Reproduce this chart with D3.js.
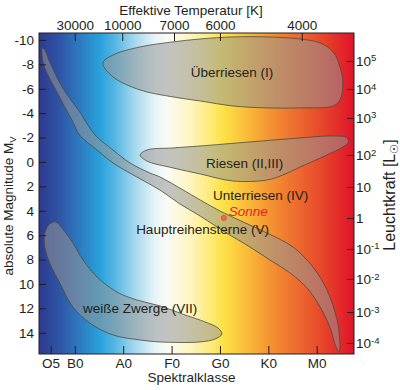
<!DOCTYPE html>
<html lang="de">
<head>
    <meta charset="UTF-8">
    <title>Hertzsprung-Russell-Diagramm</title>
    <style>
        body { margin: 0; background: #fff; }
        svg text { font-family: Arial, "Liberation Sans", sans-serif; fill: #231f20; }
        .axis line { stroke: #231f20; stroke-width: 1; }
        .axis text { font-size: 13.5px; }
        .region { fill: #969696; fill-opacity: 0.55; stroke: #4a4a3c; stroke-width: 0.8; }
    </style>
</head>
<body>
<svg id="hrd"></svg>
<script src="https://d3js.org/d3.v7.min.js"></script>
<script>
    // spectral class as number: O=0, B=1, A=2, F=3, G=4, K=5, M=6 (+ subclass/10)
    const spec_labels = ["O5", "B0", "A0", "F0", "G0", "K0", "M0"];
    const spec_values = [0.5, 1, 2, 3, 4, 5, 6];
    const spec_range = [0.26, 6.77];

    // effective temperature ticks (top) and where they sit on the spectral axis
    const temp_labels = ["30000", "10000", "7000", "6000", "4000"];
    const temp_pos = [1.0, 1.98, 3.05, 4.0, 5.69];

    // absolute magnitude (left)
    const mag_ticks = [-10, -8, -6, -4, -2, 0, 2, 4, 6, 8, 10, 12, 14];
    const mag_range = [-10.57, 15.74];

    // luminosity exponents (right) and the magnitude they are drawn at
    const lum_exp = [5, 4, 3, 2, 1, 0, -1, -2, -3, -4];
    const lum_pos = [-8.28, -5.98, -3.61, -0.57, 2.05, 4.59, 7.13, 9.59, 12.30, 14.84];

    // regions as [spectral, magnitude] outlines
    const supergiants = [
        [1.58, -8.11], [1.79, -8.77], [2.35, -9.43], [3.03, -9.84], [3.59, -10.08],
        [4.27, -10.25], [4.97, -10.25], [5.66, -10.08], [6.07, -9.75], [6.34, -9.02],
        [6.48, -7.79], [6.54, -6.48], [6.48, -5.08], [6.34, -4.59], [5.66, -4.43],
        [4.97, -4.43], [4.27, -4.59], [3.59, -5.0], [3.03, -5.33], [2.35, -5.90],
        [1.79, -6.97]
    ];
    const giants = [
        [2.35, -0.57], [2.49, -0.98], [3.03, -1.15], [3.59, -1.31], [4.62, -1.64],
        [5.66, -1.97], [6.34, -2.13], [6.63, -1.97], [6.65, -1.56], [6.54, -1.23],
        [6.21, -0.57], [5.66, 0.41], [5.30, 1.07], [4.97, 1.48], [4.27, 1.56],
        [3.59, 0.98], [3.03, 0.49], [2.49, -0.08]
    ];
    const main_sequence = [
        [0.33, -9.34], [0.38, -9.18], [0.48, -8.20], [0.75, -6.07], [1.10, -4.10],
        [1.42, -2.21], [1.79, -0.98], [2.14, 0.08], [2.55, 0.90], [2.76, 1.23],
        [3.24, 2.30], [3.59, 3.11], [4.00, 4.02], [4.48, 4.92], [4.97, 5.82],
        [5.51, 6.97], [5.92, 8.61], [6.21, 10.49], [6.42, 12.95], [6.48, 15.0],
        [6.46, 15.57],
        [6.40, 15.16], [6.27, 13.52], [6.07, 11.89], [5.80, 10.33], [5.45, 9.10],
        [5.03, 8.03], [4.62, 6.97], [4.10, 5.74], [3.59, 4.43], [3.17, 3.44],
        [2.76, 2.30], [2.28, 1.23], [1.79, 0.08], [1.46, -0.98], [1.10, -2.21],
        [0.96, -3.28], [0.63, -5.74], [0.38, -7.70], [0.33, -8.52]
    ];
    const white_dwarfs = [
        [0.38, 5.82], [0.48, 5.08], [0.61, 4.92], [0.75, 5.49], [0.96, 6.64],
        [1.17, 8.03], [1.46, 9.43], [1.87, 10.66], [2.28, 11.31], [2.76, 11.80],
        [3.28, 12.54], [3.69, 13.11], [3.96, 13.61], [4.04, 14.10], [3.90, 14.51],
        [3.59, 14.75], [2.76, 14.75], [2.35, 14.59], [1.79, 14.18], [1.31, 13.20],
        [0.96, 11.89], [0.69, 9.92], [0.48, 8.28], [0.38, 6.97]
    ];

    const region_labels = ["Überriesen (I)", "Riesen (II,III)", "Unterriesen (IV)",
                           "Hauptreihensterne (V)", "weiße Zwerge (VII)"];
    const region_label_pos = [[4.25, -6.97], [4.51, 0.49], [4.84, 3.11], [3.64, 5.90], [2.35, 12.34]];

    const sun = [4.08, 4.59];

    // background colour by spectral class
    const bg_stops = [0.26, 0.69, 1.10, 1.52, 1.83, 2.24, 2.65, 2.92, 3.38, 3.79,
                      4.04, 4.42, 4.83, 5.24, 5.66, 6.07, 6.48, 6.77];
    const bg_colors = ["#2e3a8f", "#2f55a6", "#2e7ac0", "#29a1db", "#55b6e3", "#a6d8ee",
                       "#e6f3f7", "#fbfbf5", "#fdf5c0", "#feeb7a", "#fde34a", "#fbc73c",
                       "#f6a434", "#f18431", "#ec672d", "#e7492b", "#e32a29", "#e01229"];

    const W = 400, H = 390;
    const margin = {top: 33, right: 46, bottom: 36, left: 39};
    const width = W - margin.left - margin.right;
    const height = H - margin.top - margin.bottom;

    const svg = d3.select("#hrd").attr("width", W).attr("height", H);
    const plot = svg.append("g")
        .attr("transform", "translate(" + margin.left + "," + margin.top + ")");

    const x = d3.scaleLinear().domain(spec_range).range([0, width]);
    const y = d3.scaleLinear().domain(mag_range).range([0, height]);

    // gradient background
    const grad = svg.append("defs").append("linearGradient")
        .attr("id", "bg")
        .attr("gradientUnits", "userSpaceOnUse")
        .attr("x1", 0).attr("x2", width).attr("y1", 0).attr("y2", 0);
    grad.selectAll("stop").data(bg_stops).enter().append("stop")
        .attr("offset", d => x(d) / width)
        .attr("stop-color", (d, i) => bg_colors[i]);

    plot.append("rect")
        .attr("width", width).attr("height", height)
        .style("fill", "url(#bg)");

    // regions
    const outline = d3.line()
        .curve(d3.curveCatmullRomClosed.alpha(0.5))
        .x(d => x(d[0]))
        .y(d => y(d[1]));

    plot.selectAll("path.region")
        .data([supergiants, giants, main_sequence, white_dwarfs])
        .enter().append("path")
        .attr("class", "region")
        .attr("d", outline);

    // labels
    plot.selectAll("text.rlabel")
        .data(region_labels)
        .enter().append("text")
        .attr("class", "rlabel")
        .attr("x", (d, i) => x(region_label_pos[i][0]))
        .attr("y", (d, i) => y(region_label_pos[i][1]))
        .attr("text-anchor", "middle")
        .style("font-size", "13.5px")
        .text(d => d);

    plot.append("circle")
        .attr("cx", x(sun[0])).attr("cy", y(sun[1]))
        .attr("r", 2.6)
        .style("fill", "#f26a3c")
        .style("stroke", "#c8452a")
        .style("stroke-width", 0.6);

    plot.append("text")
        .attr("x", x(sun[0]) + 5).attr("y", y(sun[1]) - 1.5)
        .style("font-size", "13.5px")
        .style("font-style", "italic")
        .style("fill", "#ec1c24")
        .text("Sonne");

    // axes
    const left_axis = plot.append("g").attr("class", "axis")
        .call(d3.axisLeft(y).tickValues(mag_ticks).tickSize(-7).tickPadding(5)
            .tickFormat(d => String(d)));

    const bottom_axis = plot.append("g").attr("class", "axis")
        .attr("transform", "translate(0," + height + ")")
        .call(d3.axisBottom(x).tickValues(spec_values).tickSize(-8).tickPadding(4)
            .tickFormat((d, i) => spec_labels[i]));

    const top_axis = plot.append("g").attr("class", "axis")
        .call(d3.axisTop(x).tickValues(temp_pos).tickSize(-8).tickPadding(3)
            .tickFormat((d, i) => temp_labels[i]));

    const right_axis = plot.append("g").attr("class", "axis")
        .attr("transform", "translate(" + width + ",0)")
        .call(d3.axisRight(y).tickValues(lum_pos).tickSize(-7).tickPadding(2)
            .tickFormat(() => ""));

    right_axis.selectAll(".tick text").each(function(d, i) {
        const e = lum_exp[i];
        const t = d3.select(this);
        if (e === 0) { t.text("1"); return; }
        if (e === 1) { t.text("10"); return; }
        t.append("tspan").text("10");
        t.append("tspan").attr("dy", "-0.45em").style("font-size", "9.5px").text(e);
    });

    [left_axis, bottom_axis, top_axis, right_axis].forEach(a => a.select(".domain").remove());

    plot.append("rect")
        .attr("width", width).attr("height", height)
        .style("fill", "none")
        .style("stroke", "#231f20")
        .style("stroke-width", 1);

    // titles
    svg.append("text")
        .attr("x", 191).attr("y", 15)
        .attr("text-anchor", "middle")
        .style("font-size", "13.5px")
        .text("Effektive Temperatur [K]");

    svg.append("text")
        .attr("x", 191.5).attr("y", 382)
        .attr("text-anchor", "middle")
        .style("font-size", "13.5px")
        .text("Spektralklasse");

    const ytitle = svg.append("text")
        .attr("transform", "translate(13,206) rotate(-90)")
        .attr("text-anchor", "middle")
        .style("font-size", "13.5px");
    ytitle.append("tspan").text("absolute Magnitude M");
    ytitle.append("tspan").attr("dy", "3px").style("font-size", "9.5px").text("V");

    const rtitle = svg.append("text")
        .attr("transform", "translate(395,195) rotate(-90)")
        .attr("text-anchor", "middle")
        .style("font-size", "16px");
    rtitle.append("tspan").text("Leuchtkraft [L");
    rtitle.append("tspan").attr("dy", "3px").style("font-size", "11px").text("☉");
    rtitle.append("tspan").attr("dy", "-3px").text("]");
</script>
</body>
</html>
